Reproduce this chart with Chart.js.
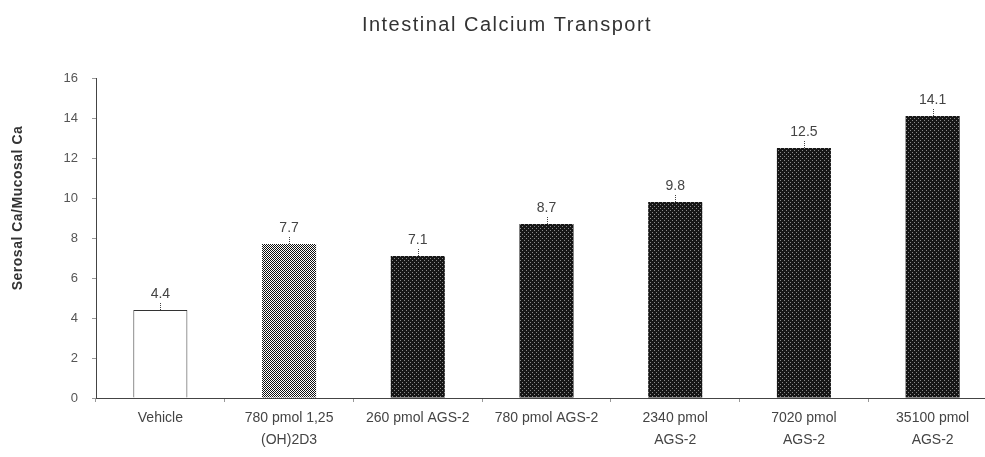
<!DOCTYPE html>
<html lang="en">
<head>
    <meta charset="UTF-8">
    <title>Intestinal Calcium Transport</title>
    <script src="https://cdn.jsdelivr.net/npm/chart.js"></script>
    <style>
        html, body { margin: 0; padding: 0; overflow: hidden; background: #fff; }
        #wrap { width: 1000px; height: 457px; }
    </style>
</head>
<body>
    <div id="wrap"><canvas id="calcChart"></canvas></div>

    <script>
        // data
        const groups = ['Vehicle', ['780 pmol 1,25', '(OH)2D3'], '260 pmol AGS-2', '780 pmol AGS-2',
                        ['2340 pmol', 'AGS-2'], ['7020 pmol', 'AGS-2'], ['35100 pmol', 'AGS-2']];
        const ratio = [4.4, 7.7, 7.1, 8.7, 9.8, 12.5, 14.1];
        const fillKind = ['open', 'gray', 'dark', 'dark', 'dark', 'dark', 'dark'];
        const yTicks = [0, 2, 4, 6, 8, 10, 12, 14, 16];

        const fontFam = '"Liberation Sans", Arial, sans-serif';

        function makePattern(kind) {
            let c = document.createElement('canvas');
            c.width = 4; c.height = 4;
            let g = c.getContext('2d');
            if (kind == 'gray') {
                g.fillStyle = '#fff'; g.fillRect(0, 0, 4, 4);
                g.fillStyle = '#111';
                for (let y = 0; y < 4; y++)
                    for (let x = 0; x < 4; x++)
                        if ((x + y) % 2 == 0) g.fillRect(x, y, 1, 1);
            } else {
                g.fillStyle = '#161616'; g.fillRect(0, 0, 4, 4);
                g.fillStyle = '#8a8a8a';
                g.fillRect(0, 0, 1, 1); g.fillRect(2, 2, 1, 1);
            }
            return g.createPattern(c, 'repeat');
        }

        let fills = fillKind.map(k => k == 'open' ? '#ffffff' : makePattern(k));

        // value labels, error ticks, title and y axis title
        const extras = {
            id: 'extras',
            afterDatasetsDraw(chart) {
                let ctx = chart.ctx;
                let meta = chart.getDatasetMeta(0);
                ctx.save();
                ctx.strokeStyle = '#444';
                ctx.lineWidth = 1;
                ctx.setLineDash([1, 1]);
                ctx.fillStyle = '#444';
                ctx.font = '14px ' + fontFam;
                ctx.textAlign = 'center';
                ctx.textBaseline = 'middle';
                meta.data.forEach((bar, i) => {
                    ctx.beginPath();
                    ctx.moveTo(Math.round(bar.x) + 0.5, bar.y);
                    ctx.lineTo(Math.round(bar.x) + 0.5, bar.y - 7);
                    ctx.stroke();
                    ctx.fillText(ratio[i].toFixed(1), bar.x, bar.y - 16);
                });

                ctx.fillStyle = '#333';
                ctx.font = '20px ' + fontFam;
                ctx.letterSpacing = '1.5px';
                ctx.fillText('Intestinal Calcium Transport', 507, 25);

                ctx.letterSpacing = '0.5px';
                ctx.translate(18, 208);
                ctx.rotate(-Math.PI / 2);
                ctx.font = 'bold 14px ' + fontFam;
                ctx.fillText('Serosal Ca/Mucosal Ca', 0, 0);
                ctx.restore();
            }
        };

        let ctx = document.getElementById('calcChart').getContext('2d');
        let calcChart = new Chart(ctx, {
            type: 'bar',
            data: {
                labels: groups,
                datasets: [{
                    data: ratio,
                    backgroundColor: fills,
                    borderColor: '#333',
                    borderWidth: fillKind.map(k => k == 'open' ? 1 : 0),
                    barPercentage: 0.6,
                    categoryPercentage: 0.7
                }]
            },
            options: {
                responsive: true,
                maintainAspectRatio: false,
                animation: false,
                layout: { padding: { top: 78, right: 3, left: 0, bottom: 0 } },
                plugins: { legend: { display: false }, tooltip: { enabled: false } },
                scales: {
                    x: {
                        afterFit: s => { s.height = 59; },
                        border: { display: true, color: '#444', dash: [3, 2] },
                        grid: { drawOnChartArea: false, drawTicks: true, tickLength: 4, color: '#999' },
                        ticks: {
                            color: '#444', padding: 5, maxRotation: 0, autoSkip: false,
                            font: { size: 14, family: fontFam, lineHeight: 1.6 }
                        }
                    },
                    y: {
                        min: 0, max: 16,
                        afterFit: s => { s.width = 96; },
                        afterBuildTicks: s => { s.ticks = yTicks.map(v => ({ value: v })); },
                        border: { display: true, color: '#444', dash: [1, 2] },
                        grid: { drawOnChartArea: false, drawTicks: true, tickLength: 4, color: '#999' },
                        ticks: {
                            color: '#555', padding: 14,
                            font: { size: 13, family: fontFam }
                        }
                    }
                }
            },
            plugins: [extras]
        });
    </script>
</body>
</html>
